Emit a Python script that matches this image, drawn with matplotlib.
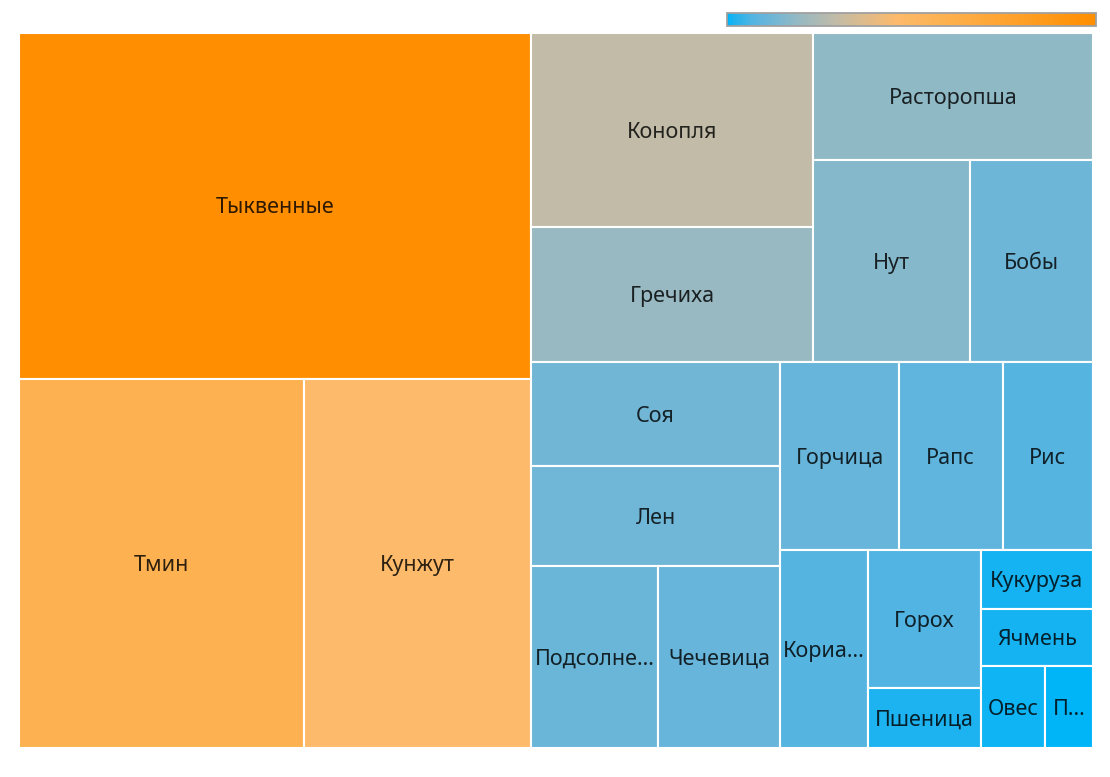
import numpy as np
import matplotlib
matplotlib.use('Agg')
import matplotlib.pyplot as plt
from matplotlib.colors import LinearSegmentedColormap, Normalize
from matplotlib.patches import Rectangle
import matplotlib.cm as cm

# crops and their values
names = ['Тыквенные', 'Тмин', 'Кунжут', 'Конопля', 'Гречиха', 'Расторопша', 'Нут', 'Бобы',
         'Соя', 'Лен', 'Подсолнечник', 'Чечевица', 'Горчица', 'Рапс', 'Рис', 'Кориандр',
         'Горох', 'Пшеница', 'Кукуруза', 'Ячмень', 'Овес', 'Просо']
values = [177.3, 105.3, 84.0, 55.0, 38.0, 35.7, 31.7, 24.8,
          25.9, 24.9, 23.2, 22.2, 22.3, 19.5, 17.0, 17.3,
          15.6, 6.8, 6.6, 6.4, 5.3, 3.9]

# nesting of the tiles (indices into names)
groups = [[0, [1, 2]],
          [[[3, 4], [5, [6, 7]]],
           [[8, 9, [10, 11]],
            [[12, 13, 14], [15, [16, 17], [18, 19, [20, 21]]]]]]]

# colour scale (visual map)
cmap_stops = [(0.0, '#00b4f8'), (0.017, '#1fb3ef'), (0.07, '#54b4e1'), (0.12, '#6fb6d7'),
              (0.19, '#95b9c3'), (0.30, '#c4bba5'), (0.46, '#fdba6b'), (0.59, '#fdb14f'),
              (1.0, '#ff8e00')]
cmap = LinearSegmentedColormap.from_list('vm', cmap_stops)
norm = Normalize(vmin=min(values), vmax=max(values))

FONT_PT = 15.5


def total(node):
    if isinstance(node, int):
        return values[node]
    return sum(total(c) for c in node)


def layout(node, x, y, w, h, out):
    # split each group along its longer side
    if isinstance(node, int):
        out.append((node, x, y, w, h))
        return
    s = total(node)
    pos = 0.0
    for c in node:
        frac = total(c) / s
        if w >= h:
            layout(c, x + pos * w, y, frac * w, h, out)
        else:
            layout(c, x, y + pos * h, w, frac * h, out)
        pos += frac


fig = plt.figure(figsize=(11.1, 7.77), dpi=100)
ax = fig.add_axes([18.5 / 1110, 1 - 748 / 777, 1074.5 / 1110, 715.5 / 777])
renderer = fig.canvas.get_renderer()
bb = ax.get_window_extent(renderer)
W, H = bb.width, bb.height
ax.set_xlim(0, W)
ax.set_ylim(H, 0)
ax.axis('off')

tiles = []
layout(groups, 0, 0, W, H, tiles)

# baseline shift so the capitals sit in the middle of the tile
cap_half = 0.714 * FONT_PT * 100 / 72 / 2

for idx, x, y, w, h in tiles:
    ax.add_patch(Rectangle((x, y), w, h, facecolor=cmap(norm(values[idx])),
                           edgecolor='white', linewidth=1.5))
    label = names[idx]
    t = ax.text(x + w / 2, y + h / 2 + cap_half, label, ha='center', va='baseline',
                fontsize=FONT_PT, family='Noto Sans', color='black', alpha=0.82)
    # truncate long names with an ellipsis
    n = len(label)
    while t.get_window_extent(renderer).width > w - 3 and n > 1:
        n -= 1
        t.set_text(label[:n] + '…')

cax = fig.add_axes([727.3 / 1110, 1 - 25.5 / 777, 368.4 / 1110, 12.5 / 777])
cb = fig.colorbar(cm.ScalarMappable(norm=norm, cmap=cmap), cax=cax, orientation='horizontal')
cb.set_ticks([])
cb.outline.set_edgecolor('#a0a0a0')
cb.outline.set_linewidth(1.3)

fig.savefig('out.png', dpi=100)
